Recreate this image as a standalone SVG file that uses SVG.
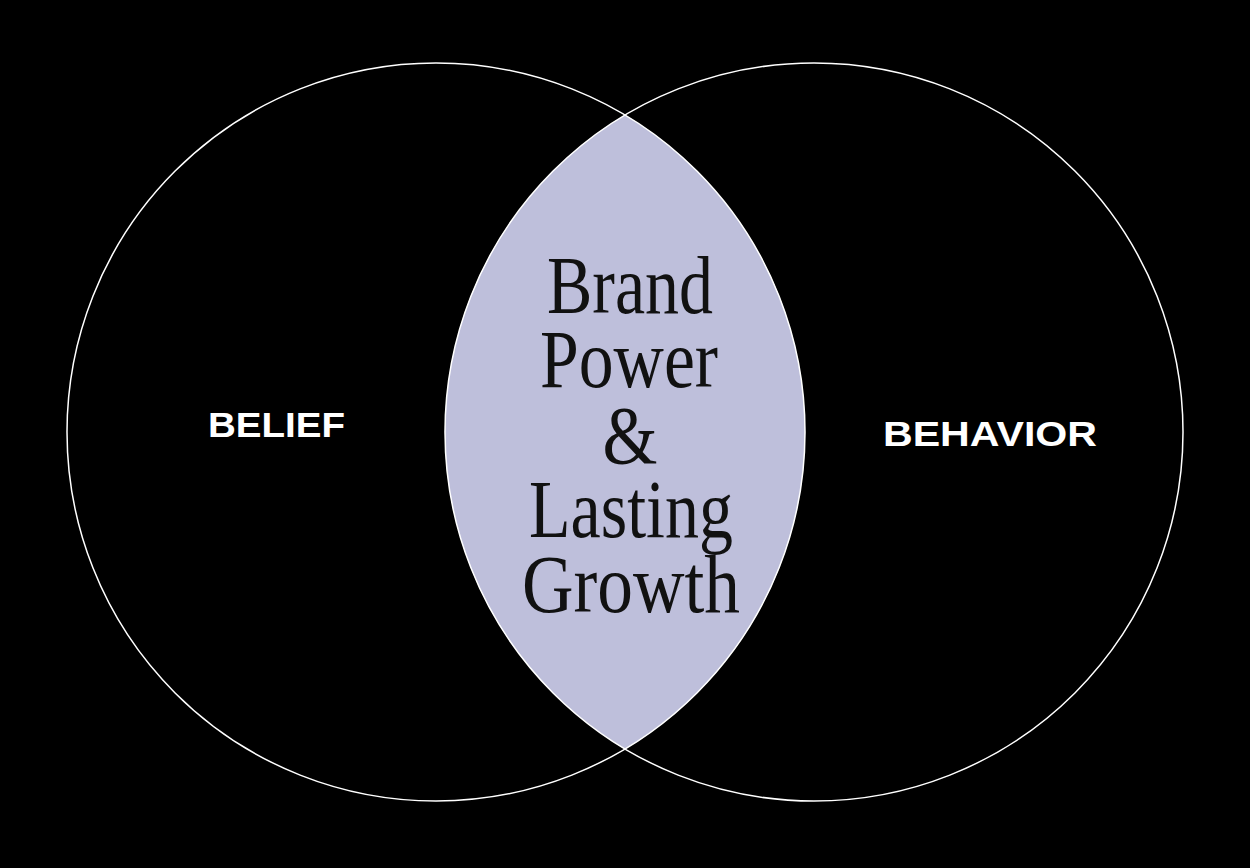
<svg xmlns="http://www.w3.org/2000/svg" width="1250" height="868" viewBox="0 0 1250 868">
  <style>
    .ring { fill: none; stroke: #ffffff; stroke-width: 1.5; }
    .lens { fill: #bebfdb; stroke: none; }
    .label { font-family: "Liberation Sans", Arial, sans-serif; font-weight: bold; font-size: 35px; fill: #ffffff; text-anchor: middle; }
    .core { font-family: "Liberation Serif", "Times New Roman", serif; font-size: 82px; fill: #111111; text-anchor: middle; }
  </style>
  <rect x="0" y="0" width="1250" height="868" fill="#000000"/>
  <g id="overlap">
    <path class="lens" d="M625,115 A369 369 0 0 0 625,749 A369 369 0 0 0 625,115 Z"/>
    <text class="core" x="630" y="313" textLength="166" lengthAdjust="spacingAndGlyphs">Brand</text>
    <text class="core" x="629" y="387" textLength="178" lengthAdjust="spacingAndGlyphs">Power</text>
    <text class="core" x="630" y="463" textLength="55" lengthAdjust="spacingAndGlyphs">&amp;</text>
    <text class="core" x="631" y="537" textLength="204" lengthAdjust="spacingAndGlyphs">Lasting</text>
    <text class="core" x="631" y="612" textLength="218" lengthAdjust="spacingAndGlyphs">Growth</text>
  </g>
  <g id="belief">
    <circle class="ring" cx="436" cy="432" r="369"/>
    <text class="label" x="276.5" y="437" textLength="137" lengthAdjust="spacingAndGlyphs">BELIEF</text>
  </g>
  <g id="behavior">
    <circle class="ring" cx="814" cy="432" r="369"/>
    <text class="label" x="990" y="446" textLength="214" lengthAdjust="spacingAndGlyphs">BEHAVIOR</text>
  </g>
  <g id="connectors"></g>
</svg>
